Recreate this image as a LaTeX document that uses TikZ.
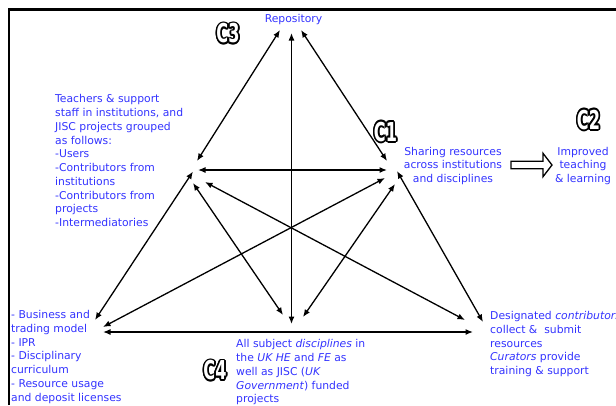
\documentclass[tikz,border=0pt]{standalone}
\usepackage{fontspec}
\usepackage{graphicx}
\setmainfont{DejaVu Sans}
\usetikzlibrary{arrows.meta,calc}
\definecolor{txtblue}{RGB}{51,51,255}

% white lettering with a black rim, built from offset copies
\newcommand\rimmed[1]{%
  \foreach \ang in {0,30,...,330}{%
    \pgfmathsetmacro\odx{1.7*cos(\ang)}%
    \pgfmathsetmacro\ody{1.7*sin(\ang)}%
    \rlap{\hspace*{\odx pt}\raisebox{\ody pt}{\color{black}#1}}}%
  {\color{white}#1}}
\newcommand\ctagtext[1]{\rimmed{\scalebox{0.62}[1]{#1}}}

\begin{document}
\begin{tikzpicture}[x=1pt,y=-1pt,
  lbl/.style={text=txtblue, font=\fontsize{10.8}{13.75}\selectfont, inner sep=0pt},
  blockl/.style={lbl, align=left, anchor=north west},
  blockc/.style={lbl, align=center, anchor=north},
  link/.style={{Latex[length=7.5pt,width=6pt]}-{Latex[length=7.5pt,width=6pt]}, line width=1.3pt},
  ctag/.style={inner sep=0pt, font=\fontsize{26}{26}\selectfont\bfseries},
  frame/.style={line width=2.6pt}]
\useasboundingbox (0,0) rectangle (616,405);

% open frame: left and top edges
\draw[frame] (9,405) -- (9,9.5) -- (616,9.5);

% labels
\node[lbl, anchor=base] (repo) at (293.5,22.5) {Repository};
\node[blockl] (teach) at (55,93.7) {\rule{0pt}{9pt}Teachers \& support\\staff in institutions, and\\JISC projects grouped\\as follows:\\-Users\\-Contributors from\\institutions\\-Contributors from\\projects\\-Intermediatories};
\node[blockc] (share) at (453,146) {\rule{0pt}{9pt}Sharing resources\\across institutions\\and disciplines};
\node[blockc] (improve) at (583,146) {\rule{0pt}{9pt}Improved\\teaching\\\& learning};
\node[blockl] (business) at (11,309.5) {\rule{0pt}{9pt}- Business and\\trading model\\- IPR\\- Disciplinary\\curriculum\\- Resource usage\\and deposit licenses};
\node[blockl] (subjects) at (236,338.7) {\rule{0pt}{9pt}All subject \textit{disciplines} in\\the \textit{UK HE} and \textit{FE} as\\well as JISC (\textit{UK}\\\textit{Government}) funded\\projects};
\node[blockl] (contrib) at (490,310.5) {\rule{0pt}{9pt}Designated \textit{contributors}\\collect \&\ \ submit\\resources\\\textit{Curators} provide\\training \& support};

% corner tags
\node[ctag] (c3) at (228,33.5) {\ctagtext{C3}};
\node[ctag] (c1) at (385.5,132) {\ctagtext{C1}};
\node[ctag] (c2) at (588.5,120) {\ctagtext{C2}};
\node[ctag] (c4) at (215,370.5) {\ctagtext{C4}};

% arrow end points
\coordinate (rL) at (280,30);
\coordinate (rM) at (291.5,33);
\coordinate (rR) at (301,30);
\coordinate (aT) at (197,161);
\coordinate (aH) at (198,170);
\coordinate (aBL) at (193,171.5);
\coordinate (aBM) at (193,183);
\coordinate (aBR) at (205,182);
\coordinate (bT) at (387,161);
\coordinate (bH) at (387,170);
\coordinate (bBL) at (385,178);
\coordinate (bBM) at (395,184);
\coordinate (bBR) at (397,171);
\coordinate (cA) at (95,320);
\coordinate (cB) at (103,327);
\coordinate (cH) at (103,332);
\coordinate (dA) at (283,315);
\coordinate (dV) at (291.5,324);
\coordinate (dB) at (303,317);
\coordinate (eA) at (465,320);
\coordinate (eB) at (483,322);
\coordinate (eH) at (473,332);

% two-way links
\draw[link] (rL) -- (aT);
\draw[link] (rR) -- (bT);
\draw[link] (rM) -- (dV);
\draw[link] (aH) -- (bH);
\draw[link] (aBL) -- (cA);
\draw[link] (aBM) -- (dA);
\draw[link] (aBR) -- (eA);
\draw[link] (bBL) -- (cB);
\draw[link] (bBM) -- (dB);
\draw[link] (bBR) -- (eB);
\draw[link] (cH) -- (eH);

% hollow block arrow from sharing to improvement
\coordinate (bigarrow) at (511,165);
\draw[line width=1.3pt, fill=white] (bigarrow) ++(0,-3.7) -- ++(32,0) -- ++(0,-8) -- ++(9,11.7) -- ++(-9,11.7) -- ++(0,-8) -- ++(-32,0) -- cycle;
\end{tikzpicture}
\end{document}
